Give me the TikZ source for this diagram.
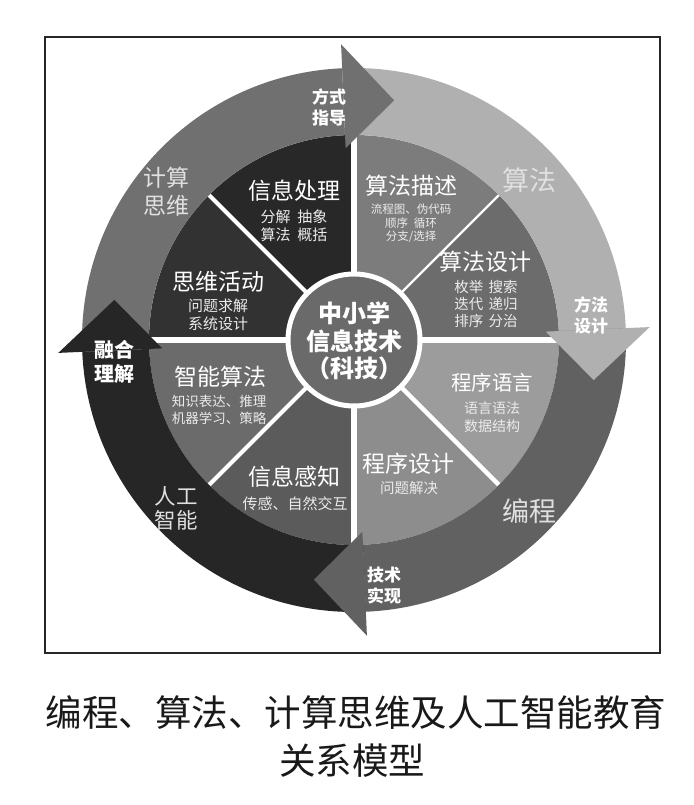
\documentclass[tikz,border=0pt]{standalone}
\usepackage{fontspec}
\setmainfont{Noto Sans CJK SC}
\definecolor{cCT}{HTML}{707070}
\definecolor{cAL}{HTML}{B0B0B0}
\definecolor{cPG}{HTML}{616161}
\definecolor{cAI}{HTML}{262626}
\definecolor{sA}{HTML}{282828}
\definecolor{sB}{HTML}{323232}
\definecolor{sC}{HTML}{6B6B6B}
\definecolor{sD}{HTML}{5B5B5B}
\definecolor{sE}{HTML}{8D8D8D}
\definecolor{sF}{HTML}{9C9C9C}
\definecolor{sG}{HTML}{6C6C6C}
\definecolor{sH}{HTML}{7C7C7C}
\definecolor{cMid}{HTML}{6A6A6A}
\tikzset{
  sectitle/.style={text=white, inner sep=0pt, font=\fontsize{23}{27}\selectfont},
  secbody/.style={text=white!92!black, align=center, inner sep=0pt},
  ringlbl/.style={text=white!88!black, align=center, inner sep=0pt},
  headlbl/.style={text=white, align=center, inner sep=0pt, font=\bfseries\fontsize{17}{21}\selectfont},
  divider/.style={white, line width=#1},
}
\begin{document}
\begin{tikzpicture}[x=1pt,y=1pt]
\useasboundingbox (0,0) rectangle (693,805);
\fill[white] (0,0) rectangle (693,805);
\draw[line width=1.3pt, black!85] (45,152) rectangle (660,768);
\coordinate (C) at (354,465);
\begin{scope}[shift={(C)}]
  % pie sectors
  \foreach \a/\c in {90/sA,135/sB,180/sC,225/sD,270/sE,315/sF,0/sG,45/sH}
    \fill[\c] (0,0) -- (\a:205) arc[start angle=\a, delta angle=45, radius=205] -- cycle;
  % dividers
  \draw[divider=5.5pt] (0,0) -- (90:205);
  \draw[divider=5.5pt] (0,0) -- (270:205);
  \draw[divider=5.5pt] (0,0) -- (180:205);
  \draw[divider=5.5pt] (0,0) -- (0:205);
  \draw[divider=4pt] (0,0) -- (135:205);
  \draw[divider=4pt] (0,0) -- (225:205);
  \draw[divider=4.5pt] (0,0) -- (315:205);
  \draw[divider=2.2pt] (0,0) -- (45:205);
  % centre disc
  \fill[cMid] (0,0) circle[radius=66];
  \draw[white, line width=5pt] (0,0) circle[radius=66];
  % ring bodies
  \fill[cCT] (182.5:272) arc[start angle=182.5, end angle=92.5, radius=272] -- (92.5:205) arc[start angle=92.5, end angle=182.5, radius=205] -- cycle;
  \fill[cAL] (92.5:272) arc[start angle=92.5, end angle=2.5, radius=272] -- (2.5:205) arc[start angle=2.5, end angle=92.5, radius=205] -- cycle;
  \fill[cPG] (2.5:272) arc[start angle=2.5, end angle=-87.5, radius=272] -- (-87.5:205) arc[start angle=-87.5, end angle=2.5, radius=205] -- cycle;
  \fill[cAI] (272.5:272) arc[start angle=272.5, end angle=182.5, radius=272] -- (182.5:205) arc[start angle=182.5, end angle=272.5, radius=205] -- cycle;
  % arrow heads
  \fill[cCT] (92.5:296) -- (80.5:243) -- (92.5:192) -- cycle;
  \fill[cAL] (2.5:296) -- (-9.5:243) -- (2.5:192) -- cycle;
  \fill[cPG] (-87.5:296) -- (-99.5:243) -- (-87.5:192) -- cycle;
  \fill[cAI] (182.5:296) -- (170.5:243) -- (182.5:192) -- cycle;
\end{scope}
% sector texts
\node[sectitle] (t1) at (294,614) {信息处理};
\node[secbody, font=\fontsize{15}{18}\selectfont] (b1) at (294,579) {分解\hspace{0.45em}抽象\\算法\hspace{0.45em}概括};
\node[sectitle] (t2) at (411,619) {算法描述};
\node[secbody, font=\fontsize{11.5}{13.5}\selectfont] (b2) at (411,581.5) {流程图、伪代码\\顺序\hspace{0.5em}循环\\分支/选择};
\node[sectitle] (t3) at (485,543) {算法设计};
\node[secbody, font=\fontsize{14.5}{17}\selectfont] (b3) at (486,501) {枚举\hspace{0.35em}搜索\\迭代\hspace{0.35em}递归\\排序\hspace{0.35em}分治};
\node[sectitle] (t4) at (218,523) {思维活动};
\node[secbody, font=\fontsize{15}{18}\selectfont] (b4) at (218,490) {问题求解\\系统设计};
\node[sectitle] (t5) at (220,428) {智能算法};
\node[secbody, font=\fontsize{13.5}{17}\selectfont] (b5) at (219,395.5) {知识表达、推理\\机器学习、策略};
\node[sectitle] (t6) at (294,328) {信息感知};
\node[secbody, font=\fontsize{15}{18}\selectfont] (b6) at (295,301) {传感、自然交互};
\node[sectitle, font=\fontsize{20.5}{25}\selectfont] (t7) at (492,422) {程序语言};
\node[secbody, font=\fontsize{14}{18}\selectfont] (b7) at (492,388) {语言语法\\数据结构};
\node[sectitle] (t8) at (408,341) {程序设计};
\node[secbody, font=\fontsize{14.5}{18}\selectfont] (b8) at (409,317) {问题解决};
% centre text
\node[text=white, align=center, inner sep=0pt, font=\bfseries\fontsize{24}{27.5}\selectfont] (ctr) at (354,464) {中小学\\信息技术\\（科技）};
% ring labels
\node[ringlbl, font=\fontsize{23}{28}\selectfont] (lct) at (166,613) {计算\\思维};
\node[ringlbl, font=\fontsize{27}{32}\selectfont] (lal) at (529,625) {算法};
\node[ringlbl, font=\fontsize{27}{32}\selectfont] (lpg) at (529,294) {编程};
\node[ringlbl, font=\fontsize{21.5}{24}\selectfont] (lai) at (176,297) {人工\\智能};
% head labels
\node[headlbl] (h1) at (329,697.5) {方式\\指导};
\node[headlbl] (h2) at (591,489.5) {方法\\设计};
\node[headlbl] (h3) at (384,219.5) {技术\\实现};
\node[headlbl, font=\bfseries\fontsize{20}{24}\selectfont] (h4) at (114,443) {融合\\理解};
% caption
\node[text=black!90, inner sep=0pt, font=\fontsize{36.5}{44}\selectfont] (cap1) at (356,92) {编程、算法、计算思维及人工智能教育};
\node[text=black!90, inner sep=0pt, font=\fontsize{36.5}{44}\selectfont] (cap2) at (352,44) {关系模型};
\end{tikzpicture}
\end{document}
